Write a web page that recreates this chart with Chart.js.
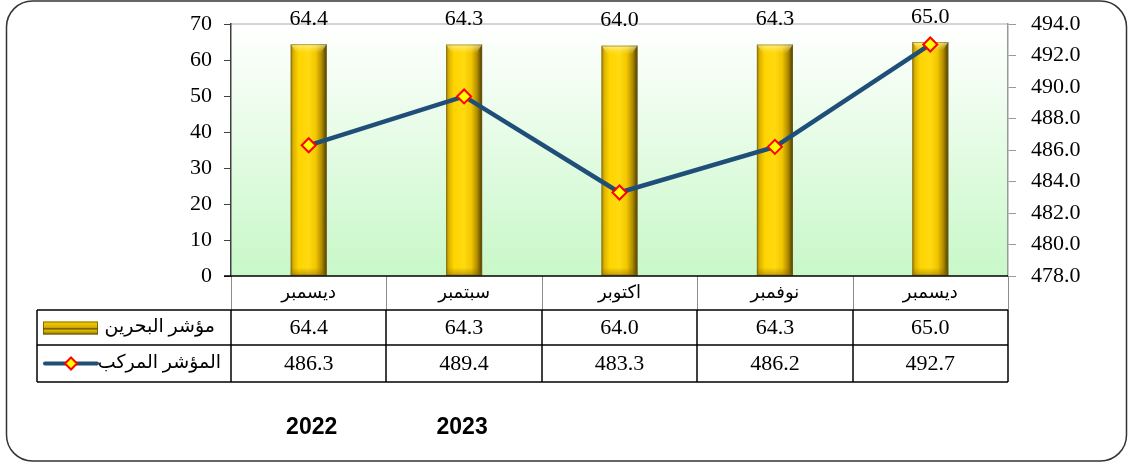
<!DOCTYPE html>
<html>
<head>
<meta charset="utf-8">
<script src="https://cdn.jsdelivr.net/npm/chart.js@4.4.0/dist/chart.umd.min.js"></script>
<style>
    html, body { margin: 0; padding: 0; background: #fff; }
    #wrap { width: 1128px; height: 463px; }
</style>
</head>
<body>
<div id="wrap"><canvas id="indexChart" width="1128" height="463"></canvas></div>
<script>
// data
const categories = ['ديسمبر', 'سبتمبر', 'اكتوبر', 'نوفمبر', 'ديسمبر'];
const bahrainIndex = [64.4, 64.3, 64.0, 64.3, 65.0];
const compositeIndex = [486.3, 489.4, 483.3, 486.2, 492.7];
const seriesNames = ['مؤشر البحرين', 'المؤشر المركب'];
const yearLabels = ['2022', '2023']; // sit under the first two columns

const leftAxis = { min: 0, max: 70, step: 10 };
const rightAxis = { min: 478, max: 494, step: 2 };

const SERIF = "'Liberation Serif', 'Times New Roman', serif";
const ARABIC = "'Liberation Serif', 'DejaVu Sans', sans-serif";

function goldBar(ctx, left, top, width, height) {
    const g = ctx.createLinearGradient(left, 0, left + width, 0);
    g.addColorStop(0, '#9c7c00');
    g.addColorStop(0.08, '#dcb400');
    g.addColorStop(0.22, '#ffd400');
    g.addColorStop(0.5, '#ffda10');
    g.addColorStop(0.7, '#f2c600');
    g.addColorStop(0.86, '#b08c00');
    g.addColorStop(1, '#4a3c00');
    ctx.fillStyle = g;
    ctx.fillRect(left, top, width, height);

    // bevelled top cap
    const cap = Math.min(9, height / 2);
    const tg = ctx.createLinearGradient(0, top, 0, top + cap);
    tg.addColorStop(0, 'rgba(255,250,190,0.75)');
    tg.addColorStop(1, 'rgba(255,230,80,0)');
    ctx.fillStyle = tg;
    ctx.beginPath();
    ctx.moveTo(left, top);
    ctx.lineTo(left + width, top);
    ctx.lineTo(left + width - 6, top + cap);
    ctx.lineTo(left + 6, top + cap);
    ctx.closePath();
    ctx.fill();

    // darker bottom cap
    const bg = ctx.createLinearGradient(0, top + height - 8, 0, top + height);
    bg.addColorStop(0, 'rgba(120,90,0,0)');
    bg.addColorStop(1, 'rgba(120,90,0,0.45)');
    ctx.fillStyle = bg;
    ctx.fillRect(left, top + height - 8, width, 8);

    ctx.strokeStyle = 'rgba(120,100,30,0.55)';
    ctx.lineWidth = 1;
    ctx.strokeRect(left + 0.5, top + 0.5, width - 1, height - 1);
}

function diamond(ctx, x, y, r) {
    ctx.beginPath();
    ctx.moveTo(x, y - r);
    ctx.lineTo(x + r, y);
    ctx.lineTo(x, y + r);
    ctx.lineTo(x - r, y);
    ctx.closePath();
    ctx.fillStyle = '#ffff00';
    ctx.fill();
    ctx.strokeStyle = '#ff0000';
    ctx.lineWidth = 2;
    ctx.stroke();
}

// keep the plot box where the picture has it, whatever the label heights
function fixAxis(width) {
    return scale => {
        scale.width = width;
        scale.paddingTop = 0;
        scale.paddingBottom = 0;
    };
}

const framePlugin = {
    id: 'frame',
    beforeDraw(chart) {
        const { ctx, chartArea: a } = chart;
        ctx.save();
        ctx.fillStyle = '#ffffff';
        ctx.fillRect(0, 0, chart.width, chart.height);
        const g = ctx.createLinearGradient(0, a.top, 0, a.bottom);
        g.addColorStop(0, '#ffffff');
        g.addColorStop(1, '#c8f8c8');
        ctx.fillStyle = g;
        ctx.fillRect(a.left, a.top, a.right - a.left, a.bottom - a.top);
        // light line along the top of the plot
        ctx.strokeStyle = '#d4d4d4';
        ctx.lineWidth = 2;
        ctx.beginPath();
        ctx.moveTo(a.left, a.top);
        ctx.lineTo(a.right, a.top);
        ctx.stroke();
        ctx.restore();
    },
    beforeDatasetDraw(chart, args) {
        if (args.meta.type !== 'bar') return;
        const ctx = chart.ctx;
        ctx.save();
        args.meta.data.forEach(el => {
            const p = el.getProps(['x', 'y', 'base', 'width'], true);
            goldBar(ctx, p.x - p.width / 2, p.y, p.width, p.base - p.y);
        });
        ctx.restore();
        return false;
    },
    afterDatasetsDraw(chart) {
        const ctx = chart.ctx;
        const meta = chart.getDatasetMeta(0);
        ctx.save();
        ctx.font = '22px ' + SERIF;
        ctx.fillStyle = '#000';
        ctx.textAlign = 'center';
        ctx.textBaseline = 'bottom';
        meta.data.forEach((el, i) => {
            ctx.fillText(bahrainIndex[i].toFixed(1), el.x, el.y - 14);
        });
        ctx.restore();
    },
    afterDraw(chart) {
        const { ctx, chartArea: a, scales } = chart;
        const n = categories.length;
        const colW = (a.right - a.left) / n;
        const rowTop = [a.bottom, a.bottom + 34, a.bottom + 69, a.bottom + 106];
        const legendLeft = 37;
        ctx.save();

        // category row (grey verticals)
        ctx.strokeStyle = '#8c8c8c';
        ctx.lineWidth = 1;
        for (let i = 0; i <= n; i++) {
            const x = Math.round(a.left + i * colW) + 0.5;
            ctx.beginPath();
            ctx.moveTo(x, rowTop[0]);
            ctx.lineTo(x, rowTop[1]);
            ctx.stroke();
        }

        // value rows (black grid)
        ctx.strokeStyle = '#000';
        ctx.lineWidth = 1.5;
        [rowTop[1], rowTop[2], rowTop[3]].forEach(y => {
            ctx.beginPath();
            ctx.moveTo(legendLeft, y);
            ctx.lineTo(a.right, y);
            ctx.stroke();
        });
        ctx.beginPath();
        ctx.moveTo(a.left - 7, a.bottom);
        ctx.lineTo(a.right, a.bottom);
        ctx.stroke();
        const vx = [legendLeft];
        for (let i = 0; i <= n; i++) vx.push(a.left + i * colW);
        vx.forEach(x => {
            ctx.beginPath();
            ctx.moveTo(Math.round(x), rowTop[1]);
            ctx.lineTo(Math.round(x), rowTop[3]);
            ctx.stroke();
        });

        // texts
        ctx.fillStyle = '#000';
        ctx.textAlign = 'center';
        ctx.textBaseline = 'middle';
        for (let i = 0; i < n; i++) {
            const cx = scales.x.getPixelForValue(i);
            ctx.font = '18px ' + ARABIC;
            ctx.fillText(categories[i], cx, (rowTop[0] + rowTop[1]) / 2);
            ctx.font = '22px ' + SERIF;
            ctx.fillText(bahrainIndex[i].toFixed(1), cx, (rowTop[1] + rowTop[2]) / 2 + 1);
            ctx.fillText(compositeIndex[i].toFixed(1), cx, (rowTop[2] + rowTop[3]) / 2 + 1);
        }

        // legend cells
        ctx.font = '19px ' + ARABIC;
        ctx.textAlign = 'right';
        ctx.direction = 'rtl';
        ctx.fillText(seriesNames[0], a.left - 16, (rowTop[1] + rowTop[2]) / 2);
        ctx.fillText(seriesNames[1], a.left - 10, (rowTop[2] + rowTop[3]) / 2);
        ctx.direction = 'ltr';

        const iy = (rowTop[1] + rowTop[2]) / 2;
        const ig = ctx.createLinearGradient(0, iy - 6, 0, iy + 7);
        ig.addColorStop(0, '#f6d200');
        ig.addColorStop(0.45, '#d8b000');
        ig.addColorStop(0.55, '#6e5a00');
        ig.addColorStop(0.7, '#e0bc00');
        ig.addColorStop(1, '#8a7000');
        ctx.fillStyle = ig;
        ctx.fillRect(43, iy - 6, 55, 13);
        ctx.strokeStyle = 'rgba(90,70,0,0.7)';
        ctx.lineWidth = 1;
        ctx.strokeRect(43.5, iy - 5.5, 54, 12);

        const ly = (rowTop[2] + rowTop[3]) / 2;
        ctx.strokeStyle = '#1f4e79';
        ctx.lineWidth = 4;
        ctx.lineCap = 'round';
        ctx.beginPath();
        ctx.moveTo(45, ly);
        ctx.lineTo(97, ly);
        ctx.stroke();
        diamond(ctx, 71, ly, 6);

        // years under the first columns
        ctx.font = 'bold 23px "Liberation Sans", Arial, sans-serif';
        ctx.fillStyle = '#000';
        ctx.textAlign = 'center';
        yearLabels.forEach((yr, i) => {
            ctx.fillText(yr, scales.x.getPixelForValue(i) + (i === 0 ? 3 : -2), 428);
        });

        // outer rounded frame
        ctx.strokeStyle = '#333';
        ctx.lineWidth = 1.5;
        ctx.beginPath();
        ctx.roundRect(6.5, 1, 1120, 460, 26);
        ctx.stroke();
        ctx.restore();
    }
};

document.addEventListener('DOMContentLoaded', () => {
    const ctx = document.getElementById('indexChart').getContext('2d');
    new Chart(ctx, {
        type: 'bar',
        data: {
            labels: categories,
            datasets: [
                {
                    type: 'bar',
                    label: seriesNames[0],
                    data: bahrainIndex,
                    backgroundColor: '#ffd400',
                    barPercentage: 0.232,
                    categoryPercentage: 1,
                    yAxisID: 'y',
                    order: 2
                },
                {
                    type: 'line',
                    label: seriesNames[1],
                    data: compositeIndex,
                    borderColor: '#1f4e79',
                    borderWidth: 4.5,
                    pointStyle: 'rectRot',
                    pointRadius: 7,
                    pointBackgroundColor: '#ffff00',
                    pointBorderColor: '#ff0000',
                    pointBorderWidth: 2,
                    tension: 0,
                    yAxisID: 'y1',
                    order: 1
                }
            ]
        },
        options: {
            responsive: false,
            animation: false,
            layout: { padding: { top: 24, bottom: 187, left: 0, right: 0 } },
            plugins: {
                legend: { display: false },
                tooltip: { enabled: false }
            },
            scales: {
                x: { display: false, offset: true },
                y: {
                    position: 'left',
                    min: leftAxis.min,
                    max: leftAxis.max,
                    ticks: {
                        stepSize: leftAxis.step,
                        color: '#000',
                        padding: 12,
                        font: { family: SERIF, size: 22 }
                    },
                    grid: { drawOnChartArea: false, tickLength: 7, color: '#404040' },
                    border: { color: '#404040', width: 1.5 },
                    afterFit: fixAxis(231)
                },
                y1: {
                    position: 'right',
                    min: rightAxis.min,
                    max: rightAxis.max,
                    ticks: {
                        stepSize: rightAxis.step,
                        color: '#000',
                        padding: 15,
                        font: { family: SERIF, size: 22 },
                        callback: v => Number(v).toFixed(1)
                    },
                    grid: { drawOnChartArea: false, tickLength: 8, color: '#999' },
                    border: { color: '#999', width: 1.5 },
                    afterFit: fixAxis(120)
                }
            }
        },
        plugins: [framePlugin]
    });
});
</script>
</body>
</html>
